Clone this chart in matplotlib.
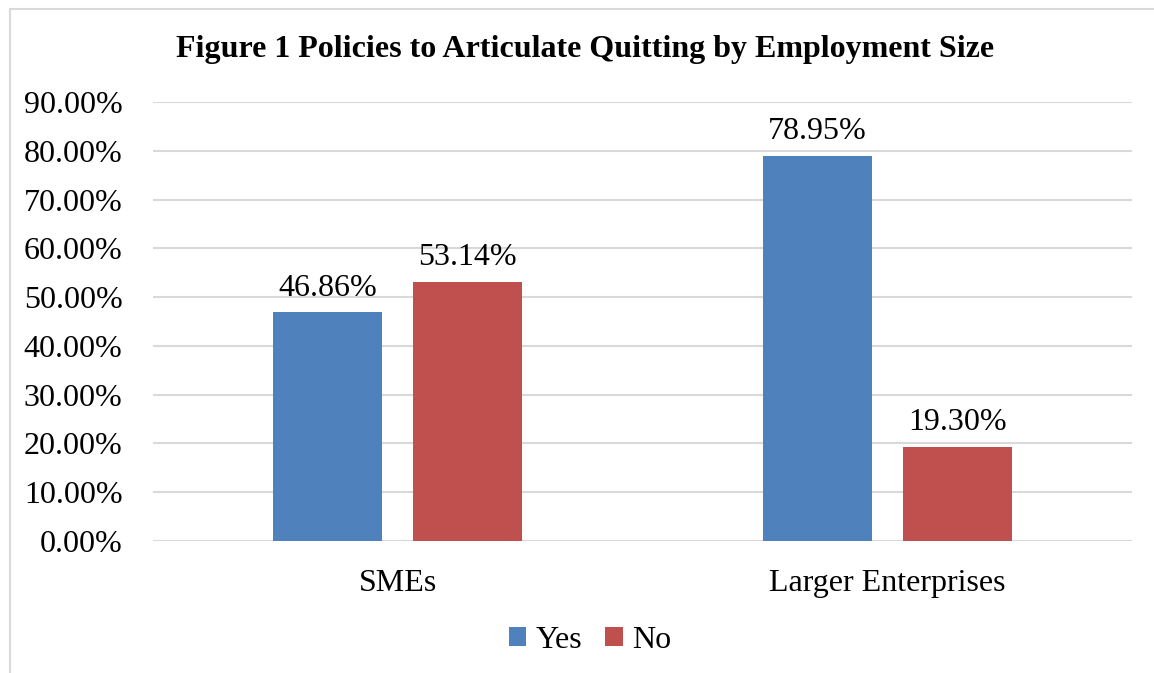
import matplotlib
matplotlib.use("Agg")
import matplotlib.pyplot as plt
from matplotlib.patches import Rectangle
import numpy as np

categories = ["SMEs", "Larger Enterprises"]
series_names = ["Yes", "No"]
yes_values = [46.86, 78.95]
no_values = [53.14, 19.30]
y_ticks = [0, 10, 20, 30, 40, 50, 60, 70, 80, 90]

colors = ["#4F81BD", "#C0504D"]
grid_color = "#D9D9D9"

plt.rcParams["font.family"] = ["Liberation Serif", "DejaVu Serif"]
FS = 23

W, H = 1154, 673
fig = plt.figure(figsize=(W / 100, H / 100), dpi=100)
fig.patch.set_facecolor("white")

# light chart-area frame
fig.add_artist(Rectangle((9.5 / W, -0.1), 1.2, 1.1 - 9.5 / H,
                         transform=fig.transFigure, fill=False,
                         edgecolor="#D9D9D9", linewidth=1.5))

left, right = 153 / W, 1132 / W
bottom, top = 1 - 541 / H, 1 - 102 / H
ax = fig.add_axes([left, bottom, right - left, top - bottom])

x = np.arange(len(categories))
width = 0.223
offset = 0.143
bars_yes = ax.bar(x - offset, yes_values, width, color=colors[0], label=series_names[0], zorder=3)
bars_no = ax.bar(x + offset, no_values, width, color=colors[1], label=series_names[1], zorder=3)

for bars, vals in ((bars_yes, yes_values), (bars_no, no_values)):
    for b, v in zip(bars, vals):
        ax.annotate(f"{v:.2f}%", (b.get_x() + b.get_width() / 2, v),
                    xytext=(0, 7), textcoords="offset points",
                    ha="center", va="bottom", fontsize=FS)

ax.set_xlim(-0.5, 1.5)
ax.set_ylim(0, 90)
ax.set_yticks(y_ticks)
ax.set_yticklabels([f"{t:.2f}%" for t in y_ticks], fontsize=FS)
ax.set_xticks(x)
ax.set_xticklabels(categories, fontsize=FS)
ax.tick_params(axis="both", length=0)
ax.tick_params(axis="y", pad=22)
ax.tick_params(axis="x", pad=20)
ax.grid(axis="y", color=grid_color, linewidth=1.5, zorder=0)
for s in ax.spines.values():
    s.set_visible(False)

fig.text(0.5 * (178 + 993) / W, 1 - 50 / H,
         "Figure 1 Policies to Articulate Quitting by Employment Size",
         ha="center", va="center", fontsize=FS, fontweight="bold")

fig.legend(loc="center", bbox_to_anchor=(590 / W, 1 - 640 / H), ncol=2,
           frameon=False, fontsize=FS, handlelength=0.55, handleheight=0.55,
           handletextpad=0.3, columnspacing=0.7)

fig.savefig("out.png", dpi=100)
